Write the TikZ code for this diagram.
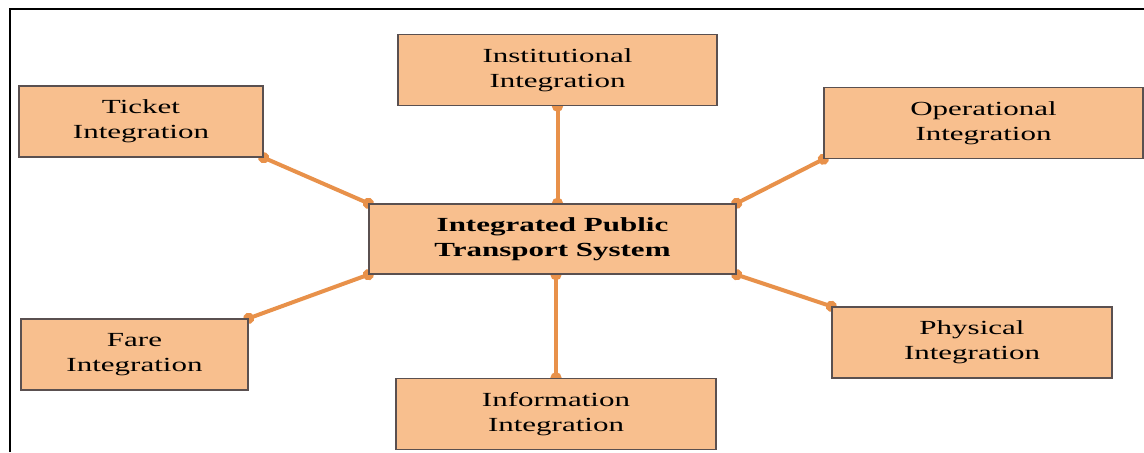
\documentclass[tikz,border=0pt]{standalone}
\usepackage{fontspec}
\setmainfont{Liberation Serif}[FakeStretch=1.55]
\usetikzlibrary{arrows.meta,backgrounds}
\definecolor{boxfill}{RGB}{248,191,142}
\definecolor{boxline}{RGB}{90,80,80}
\definecolor{linkline}{RGB}{232,145,74}
\begin{document}
\begin{tikzpicture}[
        x=0.5pt, y=-0.5pt,
        every node/.style={draw=boxline, line width=0.7pt, fill=boxfill, align=center, inner sep=0pt, font=\fontsize{10}{12.5}\selectfont}, % caixas
        part/.style={rectangle, minimum height=35.5pt}, % integracoes
        core/.style={rectangle, minimum height=35pt, font=\fontsize{10}{12.5}\selectfont\bfseries}, % sistema central
        link/.style={draw=linkline, line width=2pt, {Circle[length=5.5pt]}-{Circle[length=5.5pt]}, shorten <=-2.75pt, shorten >=-2.75pt} % ligacoes
    ]
    \useasboundingbox (0,0) rectangle (1144,452);
    \draw[line width=1.2pt] (10,452) -- (10,9) -- (1144,9); % moldura
    \node[core, minimum width=183.5pt] (ipts) at (552.5,239) {Integrated Public\\Transport System};
    \node[part, minimum width=122pt] (ticket) at (141,121.5) {Ticket\\Integration};
    \node[part, minimum width=159.5pt] (inst) at (557.5,70) {Institutional\\Integration};
    \node[part, minimum width=159.5pt] (oper) at (983.5,123) {Operational\\Integration};
    \node[part, minimum width=113.5pt] (fare) at (134.5,354.5) {Fare\\Integration};
    \node[part, minimum width=140pt] (phys) at (972,342.5) {Physical\\Integration};
    \node[part, minimum width=160pt] (info) at (556,414) {Information\\Integration};
    \begin{scope}[on background layer] % ligacoes atras das caixas
        \draw[link] (ticket.south east) -- (ipts.north west);
        \draw[link] (inst.south) -- (inst.south |- ipts.north);
        \draw[link] (oper.south west) -- (ipts.north east);
        \draw[link] (fare.north east) -- (ipts.south west);
        \draw[link] (phys.north west) -- (ipts.south east);
        \draw[link] (info.north) -- (info.north |- ipts.south);
    \end{scope}
\end{tikzpicture}
\end{document}
